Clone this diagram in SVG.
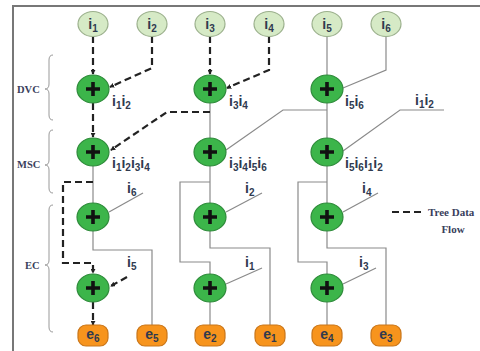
<svg xmlns="http://www.w3.org/2000/svg" width="480" height="351" viewBox="0 0 480 351">
<defs>
<style>
.inp{fill:#d6eac6;stroke:#9bb08c;stroke-width:1.2}
.add{fill:#3cb54a;stroke:#2e8a3a;stroke-width:1.2}
.plus{stroke:#111;stroke-width:3.6;fill:none}
.out{fill:#f7941d;stroke:#c9761a;stroke-width:1.2}
.sl{fill:none;stroke:#8a8a8a;stroke-width:1.2}
.dl{fill:none;stroke:#222;stroke-width:2.2;stroke-dasharray:7,4}
.lb{font-family:"Liberation Sans",Arial,sans-serif;font-weight:bold;font-size:14px;fill:#2f3a4f}
.nl{font-family:"Liberation Sans",Arial,sans-serif;font-weight:bold;font-size:14px;fill:#2f3a4f;text-anchor:middle}
.sb{font-size:10px}
.side{font-family:"Liberation Serif","Times New Roman",serif;font-weight:bold;font-size:10.5px;fill:#3a3f5c}
.br{fill:none;stroke:#999;stroke-width:1}
</style>
<marker id="ah" viewBox="0 0 6 6" refX="5" refY="3" markerWidth="5" markerHeight="5" orient="auto" markerUnits="userSpaceOnUse">
<path d="M0,0 L6,3 L0,6 z" fill="#222"/>
</marker>
<g id="plusg"><path class="plus" d="M-7,0 H7 M0,-7 V7"/></g>
</defs>
<rect width="480" height="351" fill="#fff"/>
<path d="M13,351 V6 H480" fill="none" stroke="#777" stroke-width="2"/>

<g id="connectors">
<!-- column 1 -->
<path class="dl" d="M93,36 V74" marker-end="url(#ah)"/>
<path class="dl" d="M152,36 V68 L110,87" marker-end="url(#ah)"/>
<path class="dl" d="M93,103 V137" marker-end="url(#ah)"/>
<path class="sl" d="M93,166 V203"/>
<path class="dl" d="M93,182 H63 V263 H93 V273" marker-end="url(#ah)"/>
<path class="sl" d="M93,231 V250 H152 V326"/>
<path class="sl" d="M143,193 L109,212"/>
<path class="dl" d="M127,277 L111,286" marker-end="url(#ah)"/>
<path class="dl" d="M93,302 V325" marker-end="url(#ah)"/>
<!-- column 2 -->
<path class="dl" d="M210,36 V74" marker-end="url(#ah)"/>
<path class="dl" d="M269,36 V70 L227,88" marker-end="url(#ah)"/>
<path class="sl" d="M210,103 V138"/>
<path class="dl" d="M210,112 H167 L111,150" marker-end="url(#ah)"/>
<path class="sl" d="M210,166 V203"/>
<path class="sl" d="M210,182 H180 V262 H210 V274"/>
<path class="sl" d="M210,231 V248 H270 V326"/>
<path class="sl" d="M210,302 V326"/>
<path class="sl" d="M262,193 L226,212"/>
<path class="sl" d="M262,268 L226,284"/>
<!-- column 3 -->
<path class="sl" d="M327,36 V75"/>
<path class="sl" d="M386,36 V70 L343,88"/>
<path class="sl" d="M327,103 V138"/>
<path class="sl" d="M327,110 H283 L226,150"/>
<path class="sl" d="M444,110 H400 L343,151"/>
<path class="sl" d="M327,166 V203"/>
<path class="sl" d="M327,182 H298 V262 H327 V274"/>
<path class="sl" d="M327,231 V248 H386 V326"/>
<path class="sl" d="M327,302 V326"/>
<path class="sl" d="M378,193 L343,212"/>
<path class="sl" d="M376,268 L343,284"/>
</g>

<!-- inputs -->
<g id="in1"><ellipse class="inp" cx="93" cy="24" rx="15" ry="12.5"/><text class="nl" x="93" y="29">i<tspan class="sb" dy="3">1</tspan></text></g>
<g id="in2"><ellipse class="inp" cx="152" cy="24" rx="15" ry="12.5"/><text class="nl" x="152" y="29">i<tspan class="sb" dy="3">2</tspan></text></g>
<g id="in3"><ellipse class="inp" cx="210" cy="24" rx="15" ry="12.5"/><text class="nl" x="210" y="29">i<tspan class="sb" dy="3">3</tspan></text></g>
<g id="in4"><ellipse class="inp" cx="269" cy="24" rx="15" ry="12.5"/><text class="nl" x="269" y="29">i<tspan class="sb" dy="3">4</tspan></text></g>
<g id="in5"><ellipse class="inp" cx="327" cy="24" rx="15" ry="12.5"/><text class="nl" x="327" y="29">i<tspan class="sb" dy="3">5</tspan></text></g>
<g id="in6"><ellipse class="inp" cx="386" cy="24" rx="15" ry="12.5"/><text class="nl" x="386" y="29">i<tspan class="sb" dy="3">6</tspan></text></g>

<!-- adders -->
<g id="a11"><ellipse class="add" cx="93" cy="89" rx="16" ry="14"/><use href="#plusg" x="93" y="89"/></g>
<g id="a12"><ellipse class="add" cx="93" cy="152" rx="16" ry="14"/><use href="#plusg" x="93" y="152"/></g>
<g id="a13"><ellipse class="add" cx="93" cy="217" rx="16" ry="14"/><use href="#plusg" x="93" y="217"/></g>
<g id="a14"><ellipse class="add" cx="93" cy="288" rx="16" ry="14"/><use href="#plusg" x="93" y="288"/></g>
<g id="a21"><ellipse class="add" cx="210" cy="89" rx="16" ry="14"/><use href="#plusg" x="210" y="89"/></g>
<g id="a22"><ellipse class="add" cx="210" cy="152" rx="16" ry="14"/><use href="#plusg" x="210" y="152"/></g>
<g id="a23"><ellipse class="add" cx="210" cy="217" rx="16" ry="14"/><use href="#plusg" x="210" y="217"/></g>
<g id="a24"><ellipse class="add" cx="210" cy="288" rx="16" ry="14"/><use href="#plusg" x="210" y="288"/></g>
<g id="a31"><ellipse class="add" cx="327" cy="89" rx="16" ry="14"/><use href="#plusg" x="327" y="89"/></g>
<g id="a32"><ellipse class="add" cx="327" cy="152" rx="16" ry="14"/><use href="#plusg" x="327" y="152"/></g>
<g id="a33"><ellipse class="add" cx="327" cy="217" rx="16" ry="14"/><use href="#plusg" x="327" y="217"/></g>
<g id="a34"><ellipse class="add" cx="327" cy="288" rx="16" ry="14"/><use href="#plusg" x="327" y="288"/></g>

<!-- outputs -->
<g id="e6"><rect class="out" x="78" y="325" width="30" height="21" rx="8"/><text class="nl" x="93" y="339">e<tspan class="sb" dy="3">6</tspan></text></g>
<g id="e5"><rect class="out" x="137" y="325" width="30" height="21" rx="8"/><text class="nl" x="152" y="339">e<tspan class="sb" dy="3">5</tspan></text></g>
<g id="e2"><rect class="out" x="195" y="325" width="30" height="21" rx="8"/><text class="nl" x="210" y="339">e<tspan class="sb" dy="3">2</tspan></text></g>
<g id="e1"><rect class="out" x="255" y="325" width="30" height="21" rx="8"/><text class="nl" x="270" y="339">e<tspan class="sb" dy="3">1</tspan></text></g>
<g id="e4"><rect class="out" x="312" y="325" width="30" height="21" rx="8"/><text class="nl" x="327" y="339">e<tspan class="sb" dy="3">4</tspan></text></g>
<g id="e3"><rect class="out" x="371" y="325" width="30" height="21" rx="8"/><text class="nl" x="386" y="339">e<tspan class="sb" dy="3">3</tspan></text></g>

<!-- labels -->
<g id="labels">
<text class="lb" x="112" y="106">i<tspan class="sb" dy="3">1</tspan><tspan dy="-3">i</tspan><tspan class="sb" dy="3">2</tspan></text>
<text class="lb" x="112" y="168">i<tspan class="sb" dy="3">1</tspan><tspan dy="-3">i</tspan><tspan class="sb" dy="3">2</tspan><tspan dy="-3">i</tspan><tspan class="sb" dy="3">3</tspan><tspan dy="-3">i</tspan><tspan class="sb" dy="3">4</tspan></text>
<text class="lb" x="229" y="106">i<tspan class="sb" dy="3">3</tspan><tspan dy="-3">i</tspan><tspan class="sb" dy="3">4</tspan></text>
<text class="lb" x="229" y="168">i<tspan class="sb" dy="3">3</tspan><tspan dy="-3">i</tspan><tspan class="sb" dy="3">4</tspan><tspan dy="-3">i</tspan><tspan class="sb" dy="3">5</tspan><tspan dy="-3">i</tspan><tspan class="sb" dy="3">6</tspan></text>
<text class="lb" x="345" y="106">i<tspan class="sb" dy="3">5</tspan><tspan dy="-3">i</tspan><tspan class="sb" dy="3">6</tspan></text>
<text class="lb" x="345" y="168">i<tspan class="sb" dy="3">5</tspan><tspan dy="-3">i</tspan><tspan class="sb" dy="3">6</tspan><tspan dy="-3">i</tspan><tspan class="sb" dy="3">1</tspan><tspan dy="-3">i</tspan><tspan class="sb" dy="3">2</tspan></text>
<text class="lb" x="415" y="105">i<tspan class="sb" dy="3">1</tspan><tspan dy="-3">i</tspan><tspan class="sb" dy="3">2</tspan></text>
<text class="lb" x="127" y="193">i<tspan class="sb" dy="3">6</tspan></text>
<text class="lb" x="127" y="267">i<tspan class="sb" dy="3">5</tspan></text>
<text class="lb" x="245" y="193">i<tspan class="sb" dy="3">2</tspan></text>
<text class="lb" x="245" y="267">i<tspan class="sb" dy="3">1</tspan></text>
<text class="lb" x="362" y="193">i<tspan class="sb" dy="3">4</tspan></text>
<text class="lb" x="359" y="267">i<tspan class="sb" dy="3">3</tspan></text>
</g>

<!-- side braces -->
<g id="sides">
<text class="side" x="17" y="93">DVC</text>
<text class="side" x="17" y="168">MSC</text>
<text class="side" x="25" y="269">EC</text>
<path class="br" d="M53,55 Q49,55 49,60 V84 Q49,89 45,89 Q49,89 49,94 V115 Q49,120 53,120"/>
<path class="br" d="M53,130 Q49,130 49,135 V160 Q49,165 45,165 Q49,165 49,170 V188 Q49,193 53,193"/>
<path class="br" d="M53,205 Q49,205 49,210 V260 Q49,265 45,265 Q49,265 49,270 V327 Q49,332 53,332"/>
</g>

<!-- legend -->
<g id="legend">
<path class="dl" d="M392,212 H423" stroke-dasharray="6,3"/>
<text class="side" x="428" y="216" style="font-size:11px">Tree Data</text>
<text class="side" x="453" y="233" text-anchor="middle" style="font-size:11px">Flow</text>
</g>
</svg>
